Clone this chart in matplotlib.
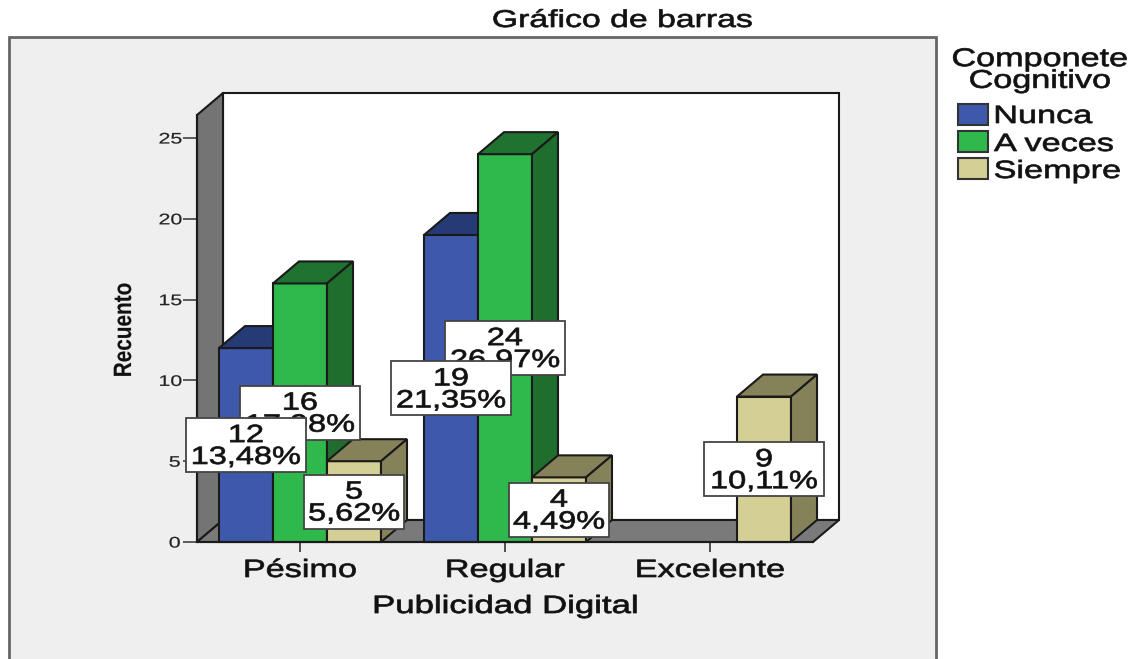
import matplotlib
matplotlib.use("Agg")
import matplotlib.pyplot as plt
from matplotlib.patches import Polygon, Rectangle
from matplotlib.patheffects import AbstractPathEffect
from matplotlib.transforms import Affine2D

categories = ["Pésimo", "Regular", "Excelente"]
series_names = ["Nunca", "A veces", "Siempre"]
nunca = [12, 19, 0]
a_veces = [16, 24, 0]
siempre = [5, 4, 9]
porc_nunca = ["13,48%", "21,35%", ""]
porc_a_veces = ["17,98%", "26,97%", ""]
porc_siempre = ["5,62%", "4,49%", "10,11%"]
y_ticks = [0, 5, 10, 15, 20, 25]

W, H = 1140, 659
plt.rcParams["font.family"] = ["Liberation Sans", "DejaVu Sans"]


class Stretch(AbstractPathEffect):
    """Horizontally widened text, as in the squeezed original screenshot."""
    def __init__(self, sx, lw=0.0, left=False):
        super().__init__()
        self.sx, self.lw, self.left = sx, lw, left

    def draw_path(self, renderer, gc, tpath, affine, rgbFace=None):
        e = tpath.get_extents()
        cx = e.x0 if self.left else (e.x0 + e.x1) / 2
        t = Affine2D().translate(-cx, 0).scale(self.sx, 1).translate(cx, 0) + affine
        gc.set_linewidth(self.lw)
        renderer.draw_path(gc, tpath, t, rgbFace)


fig = plt.figure(figsize=(W / 100, H / 100), dpi=100, facecolor="white")


def fx(x):
    return x / W


def fy(y):
    return 1 - y / H


def ftext(x, y, s, size, sx, lw=0.25, **kw):
    t = fig.text(fx(x), fy(y), s, fontsize=size, ha="center", va="center",
                 color="#111111", linespacing=0.88, **kw)
    t.set_path_effects([Stretch(sx, lw)])
    return t


# panel
fig.add_artist(Rectangle((fx(9), fy(664)), fx(927), (664 - 37) / H, transform=fig.transFigure,
                         facecolor="#EFEFEF", edgecolor="#666666", lw=2, zorder=-5))

# axes: x=197..813 px, y baseline 542, 16.16 px per count
L, R, B, T = 197, 813, 542, 115
ax = fig.add_axes([fx(L), fy(B), (R - L) / W, (B - T) / H], zorder=1)
ax.set_xlim(-0.5024, 2.5024)
ax.set_ylim(0, (B - T) / 16.16)
ax.patch.set_visible(False)
x0, x1 = ax.get_xlim()
y0, y1 = ax.get_ylim()
DX, DY = 26 / 205, 22 / 16.16
BW = 54 / 205
EDGE = "#1a1a1a"


def poly(pts, fc, z=1, lw=1.5):
    ax.add_patch(Polygon(pts, closed=True, facecolor=fc, edgecolor=EDGE, lw=lw,
                         clip_on=False, zorder=z, joinstyle="miter"))


# back wall, left wall, floor
poly([(x0 + DX, DY), (x1 + DX, DY), (x1 + DX, y1 + DY), (x0 + DX, y1 + DY)], "white")
poly([(x0, 0), (x0 + DX, DY), (x0 + DX, y1 + DY), (x0, y1)], "#747474")
poly([(x0, 0), (x1, 0), (x1 + DX, DY), (x0 + DX, DY)], "#7A7A7A")

series = [nunca, a_veces, siempre]
porc = [porc_nunca, porc_a_veces, porc_siempre]
front = ["#3E58AC", "#2FB84B", "#D4CF95"]
top = ["#263A75", "#1F7230", "#85825A"]
side = ["#263A75", "#1F6E2E", "#85825A"]

z = 2
for c in range(3):
    for s in range(3):
        v = series[s][c]
        if v == 0:
            continue
        a = c + (s - 1.5) * BW
        b = a + BW
        poly([(a, 0), (b, 0), (b, v), (a, v)], front[s], z)
        poly([(a, v), (b, v), (b + DX, v + DY), (a + DX, v + DY)], top[s], z)
        poly([(b, 0), (b + DX, DY), (b + DX, v + DY), (b, v)], side[s], z)
        z += 1

# value labels: A veces first, then Nunca, then Siempre
z = 50
for s in (1, 0, 2):
    for c in range(3):
        v = series[s][c]
        if v == 0:
            continue
        xc = c + (s - 1) * BW
        yc = v / 2
        bw = 20 * len(porc[s][c]) / 205
        bh = 54 / 16.16
        ax.add_patch(Rectangle((xc - bw / 2, yc - bh / 2), bw, bh, facecolor="white",
                               edgecolor="#444444", lw=1.3, clip_on=False, zorder=z))
        t = ax.annotate(f"{v}\n{porc[s][c]}", (xc, yc), xytext=(0, -0.7),
                        textcoords="offset points", ha="center", va="center", fontsize=18,
                        color="#111111", linespacing=0.89, zorder=z + 1, annotation_clip=False)
        t.set_path_effects([Stretch(1.3, 0.5)])
        z += 2

# axes furniture
for n in ("top", "right"):
    ax.spines[n].set_visible(False)
for n in ("left", "bottom"):
    ax.spines[n].set_color(EDGE)
    ax.spines[n].set_linewidth(1.5)
    ax.spines[n].set_zorder(40)
ax.set_xticks(range(3), categories)
ax.set_yticks(y_ticks)
ax.tick_params(axis="y", length=10, width=1.1, color="#333333", labelsize=11, pad=3,
               labelcolor="#222222")
ax.tick_params(axis="x", length=7, width=1.2, color="#333333", labelsize=18, pad=4.5,
               labelcolor="#111111")
for t in ax.get_xticklabels():
    t.set_path_effects([Stretch(1.37, 0.5)])
for t in ax.get_yticklabels():
    t.set_path_effects([Stretch(1.4, 0.15)])

ax.set_xlabel("Publicidad Digital", fontsize=18, color="#111111")
ax.xaxis.set_label_coords((505 - L) / (R - L), (B - 606) / (B - T))
ax.xaxis.label.set_va("center")
ax.xaxis.label.set_path_effects([Stretch(1.39, 0.55)])
ax.set_ylabel("Recuento", fontsize=18, fontweight="bold", color="#111111")
ax.yaxis.set_label_coords((124 - L) / (R - L), (B - 330) / (B - T))
ax.yaxis.label.set_va("center")
ax.yaxis.label.set_path_effects([Stretch(0.83, 0.1)])

# title
ftext(622, 21, "Gráfico de barras", 17.5, 1.39, 0.5)

# legend
ftext(1040, 70, "Componete\nCognitivo", 18.5, 1.33, 0.5)
legend_y = [116, 144, 171]
patch_y = [114, 141, 168]
for name, fc, y, py in zip(series_names, front, legend_y, patch_y):
    fig.add_artist(Rectangle((fx(958), fy(py + 10.5)), 30 / W, 21 / H, transform=fig.transFigure,
                             facecolor=fc, edgecolor="#333333", lw=1.5))
    t = fig.text(fx(994), fy(y), name, fontsize=18, ha="left", va="center", color="#111111")
    t.set_path_effects([Stretch(1.37, 0.5, left=True)])

fig.savefig("out.png", dpi=100, facecolor="white")
